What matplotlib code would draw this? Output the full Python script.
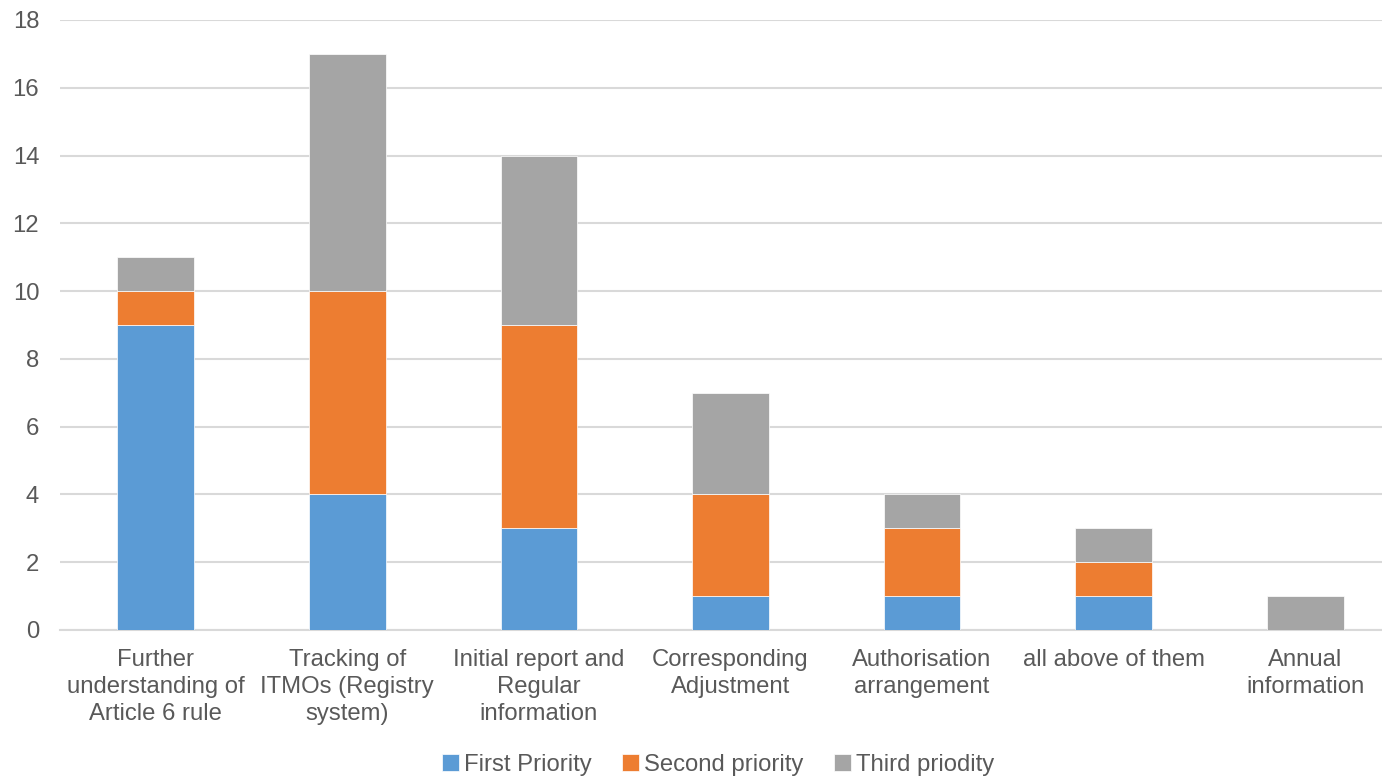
import numpy as np
import matplotlib
matplotlib.use("Agg")
import matplotlib.pyplot as plt

plt.rcParams['font.family'] = ['Liberation Sans', 'DejaVu Sans']

categorias = ["Further\nunderstanding of\nArticle 6 rule",
              "Tracking of\nITMOs (Registry\nsystem)",
              "Initial report and\nRegular\ninformation",
              "Corresponding\nAdjustment",
              "Authorisation\narrangement",
              "all above of them",
              "Annual\ninformation"]
primera = [9, 4, 3, 1, 1, 1, 0]
segunda = [1, 6, 6, 3, 2, 1, 0]
tercera = [1, 7, 5, 3, 1, 1, 1]
nombres = ["First Priority", "Second priority", "Third priodity"]
colores = ["#5b9bd5", "#ed7d31", "#a5a5a5"]

fig = plt.figure(figsize=(13.82, 7.76), dpi=100)
ax = fig.add_axes([60/1382, 1-630/776, (1401-60)/1382, (630-20)/776])

x = np.arange(len(categorias))
base = np.zeros(len(categorias))
barras = []
for serie, nombre, color in zip([primera, segunda, tercera], nombres, colores):
    b = ax.bar(x, serie, 0.4, bottom=base, color=color, label=nombre,
               edgecolor='white', linewidth=0.5, zorder=3)
    barras.append(b)
    base = base + np.array(serie)

ax.set_xlim(-0.5, len(categorias) - 0.5)
ax.set_ylim(0, 18)
ax.set_yticks(range(0, 19, 2))
ax.grid(axis='y', color='#d9d9d9', linewidth=1.5, zorder=0)
for s in ['top', 'right', 'left']:
    ax.spines[s].set_visible(False)
ax.spines['bottom'].set_color('#d9d9d9')
ax.spines['bottom'].set_linewidth(1.5)
ax.set_xticks(x)
ax.set_xticklabels(categorias, fontsize=17.2, color='#595959', linespacing=1.28)
ax.tick_params(axis='y', labelsize=17.2, labelcolor='#595959', length=0, pad=15)
ax.tick_params(axis='x', length=0, pad=14)

fig.legend(handles=barras, labels=nombres, loc='center', bbox_to_anchor=(718/1382, 1-765/776),
           ncol=3, frameon=False, fontsize=17.2, labelcolor='#595959',
           handlelength=0.7, handleheight=0.7, handletextpad=0.2, columnspacing=1.3)

plt.savefig('out.png', dpi=100)
plt.close()
